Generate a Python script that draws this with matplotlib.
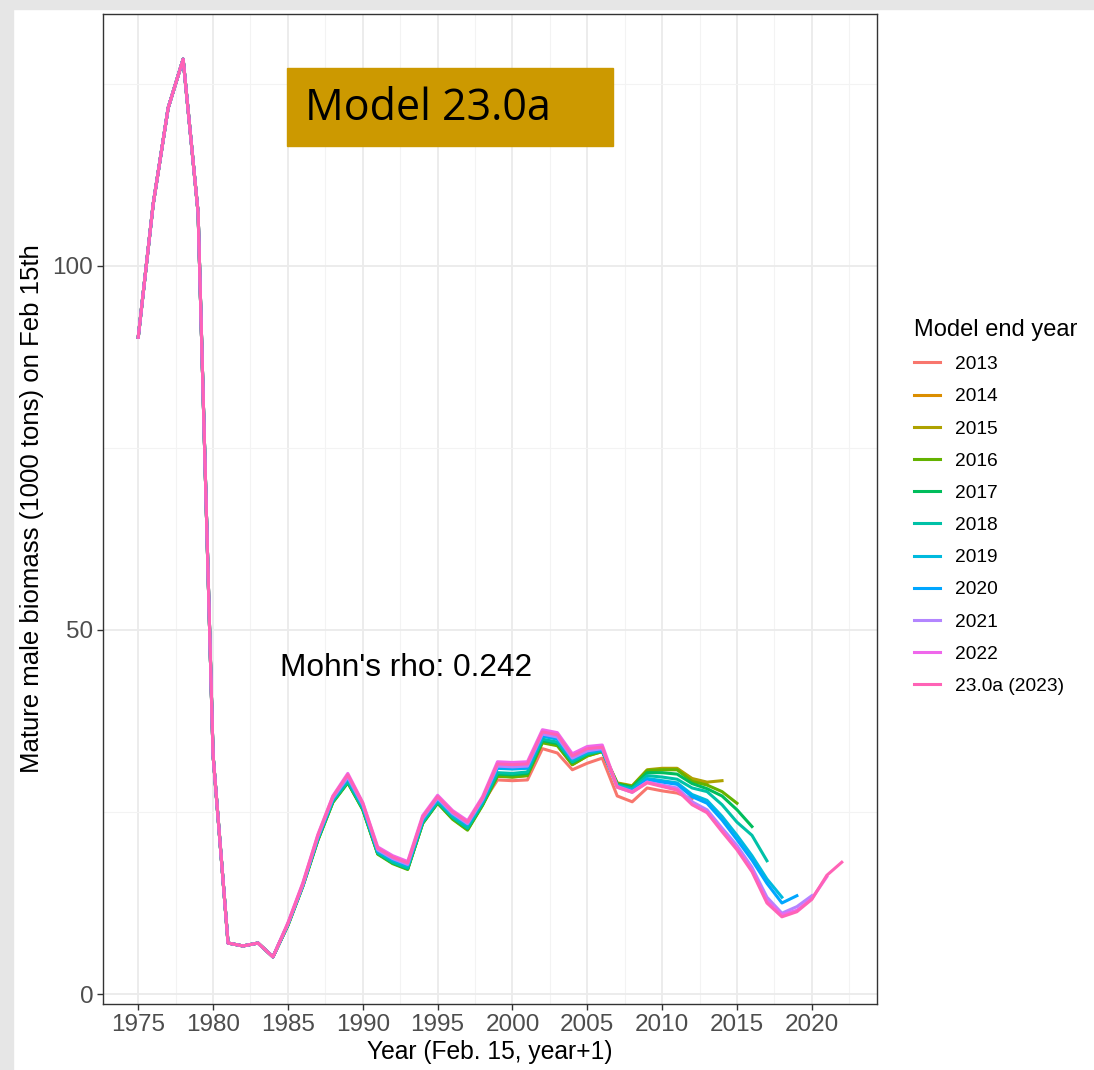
import matplotlib
matplotlib.use("Agg")
import matplotlib.pyplot as plt
from matplotlib.patches import Rectangle
from matplotlib.ticker import MultipleLocator

plt.rcParams["font.family"] = ["Liberation Sans", "DejaVu Sans"]

# --- data -------------------------------------------------------------
start_year = 1975
# 1975-1984: all retrospective runs sit on top of each other
early = [90.2, 108.5, 121.7, 128.4, 107.3, 32.8, 7.0, 6.6, 7.0, 5.1]

# 1985 onwards, one list per model end year
p13 = [9.6, 15.0, 21.5, 26.8, 29.6, 25.8, 19.6, 18.4, 17.6, 23.9, 26.6, 24.4, 22.9, 26.2,
       29.4, 29.3, 29.4, 33.7, 33.1, 30.8, 31.7, 32.4, 27.2, 26.4, 28.3, 27.9, 27.6, 26.8]
p14 = [9.5, 14.9, 21.2, 26.4, 29.1, 25.4, 19.3, 18.0, 17.2, 23.5, 26.3, 24.1, 22.6, 26.0,
       30.0, 29.8, 30.0, 34.6, 34.2, 31.5, 32.7, 33.3, 28.9, 28.5, 30.6, 30.8, 30.9, 29.5, 29.0]
p15 = [9.5, 14.9, 21.2, 26.4, 29.1, 25.4, 19.3, 18.0, 17.2, 23.5, 26.3, 24.1, 22.6, 26.0,
       30.0, 29.9, 30.1, 34.7, 34.3, 31.6, 32.8, 33.4, 29.0, 28.6, 30.8, 31.0, 31.0, 29.6, 29.1,
       29.3]
p16 = [9.4, 14.8, 21.1, 26.3, 29.0, 25.3, 19.2, 17.9, 17.1, 23.4, 26.2, 24.0, 22.5, 25.9,
       29.9, 29.8, 30.0, 34.5, 34.1, 31.5, 32.7, 33.3, 28.9, 28.5, 30.7, 30.8, 30.8, 29.2, 28.7,
       27.8, 26.2]
p17 = [9.5, 14.9, 21.2, 26.4, 29.1, 25.4, 19.3, 18.0, 17.2, 23.5, 26.3, 24.2, 22.7, 26.1,
       30.2, 30.1, 30.3, 34.8, 34.4, 31.8, 32.9, 33.4, 28.8, 28.4, 30.4, 30.4, 30.2, 28.9, 28.2,
       27.2, 25.3, 23.0]
p18 = [9.5, 14.9, 21.3, 26.5, 29.2, 25.5, 19.4, 18.1, 17.3, 23.6, 26.4, 24.3, 22.8, 26.2,
       30.4, 30.3, 30.5, 35.0, 34.6, 31.9, 33.0, 33.4, 28.7, 28.2, 30.0, 29.8, 29.5, 28.3, 27.8,
       26.0, 23.6, 21.8, 18.3]
p19 = [9.6, 15.0, 21.5, 26.8, 29.6, 25.8, 19.6, 18.4, 17.6, 23.9, 26.7, 24.6, 23.2, 26.5,
       31.0, 30.9, 31.0, 35.4, 35.0, 32.2, 33.2, 33.5, 28.6, 28.0, 29.6, 29.3, 29.0, 27.4, 26.6,
       24.4, 21.8, 19.0, 15.8, 13.3]
p20 = [9.6, 15.0, 21.5, 26.8, 29.7, 25.9, 19.7, 18.5, 17.7, 24.0, 26.8, 24.7, 23.3, 26.6,
       31.1, 31.0, 31.1, 35.5, 35.1, 32.3, 33.3, 33.6, 28.5, 27.9, 29.4, 29.1, 28.8, 27.1, 26.2,
       23.9, 21.2, 18.4, 15.2, 12.5, 13.5]
p21 = [9.6, 15.0, 21.6, 26.9, 29.8, 26.0, 19.8, 18.6, 17.8, 24.1, 26.9, 24.8, 23.4, 26.7,
       31.3, 31.2, 31.3, 35.7, 35.3, 32.4, 33.4, 33.7, 28.4, 27.7, 29.1, 28.7, 28.3, 26.4, 25.3,
       22.8, 20.4, 17.4, 13.3, 11.1, 12.0, 13.5]
p22 = [9.8, 15.3, 21.9, 27.2, 30.3, 26.3, 20.2, 19.0, 18.2, 24.5, 27.3, 25.2, 23.8, 27.1,
       31.9, 31.8, 31.9, 36.3, 35.9, 33.0, 34.0, 34.2, 28.5, 27.8, 29.1, 28.6, 28.1, 26.1, 25.0,
       22.5, 20.0, 17.0, 12.8, 10.9, 11.5, 13.1, 16.1]
p23 = [9.7, 15.2, 21.8, 27.1, 30.1, 26.2, 20.0, 18.8, 18.0, 24.3, 27.1, 25.0, 23.6, 26.9,
       31.6, 31.5, 31.6, 36.0, 35.6, 32.7, 33.7, 33.9, 28.4, 27.7, 29.0, 28.5, 28.0, 26.0, 24.9,
       22.3, 19.8, 16.8, 12.5, 10.6, 11.3, 13.0, 16.3, 18.1]

series = [p13, p14, p15, p16, p17, p18, p19, p20, p21, p22, p23]
labels = ["2013", "2014", "2015", "2016", "2017", "2018", "2019", "2020", "2021", "2022",
          "23.0a (2023)"]
colors = ["#F8766D", "#DB8E00", "#AEA200", "#64B200", "#00BD5C", "#00C1A7", "#00BADE",
          "#00A6FF", "#B385FF", "#EF67EB", "#FF63B6"]
rho_text = "Mohn's rho: 0.242"

# --- figure -----------------------------------------------------------
fig = plt.figure(figsize=(10.94, 10.70), dpi=100)
fig.patch.set_facecolor("white")
# slide texture showing at the edges
fig.add_artist(Rectangle((0, 0), 0.012, 1, transform=fig.transFigure,
                         color="#E6E6E6", zorder=0))
fig.add_artist(Rectangle((0, 0.992), 1, 0.008, transform=fig.transFigure,
                         color="#E6E6E6", zorder=0))

ax = fig.add_axes([0.0942, 0.0617, 0.7074, 0.9252])

for vals, lab, col in zip(series, labels, colors):
    y = early + vals
    x = list(range(start_year, start_year + len(y)))
    ax.plot(x, y, color=col, lw=2.2, label=lab, solid_joinstyle="round")

ax.set_xlim(1972.65, 2024.35)
ax.set_ylim(-1.37, 134.6)
ax.xaxis.set_major_locator(MultipleLocator(5))
ax.xaxis.set_minor_locator(MultipleLocator(2.5))
ax.yaxis.set_major_locator(MultipleLocator(50))
ax.yaxis.set_minor_locator(MultipleLocator(25))
ax.grid(which="major", color="#EBEBEB", lw=1.3)
ax.grid(which="minor", color="#F3F3F3", lw=0.8)
ax.set_axisbelow(True)
for s in ax.spines.values():
    s.set_color("#333333")
    s.set_linewidth(1.0)
ax.tick_params(which="major", length=4, width=1, color="#333333", pad=3,
               labelsize=17.5, labelcolor="#4D4D4D")
ax.tick_params(which="minor", length=0)

ax.set_xlabel("Year (Feb. 15, year+1)", fontsize=17.7, color="black", labelpad=3)
ax.set_ylabel("Mature male biomass (1000 tons) on Feb 15th", fontsize=18.5,
              color="black")
ax.yaxis.set_label_coords(-0.076, 0.5)

ax.text(1992.9, 44.8, rho_text, fontsize=22.8, color="black",
        ha="center", va="center")

leg = ax.legend(title="Model end year", loc="upper left",
                bbox_to_anchor=(0.8196, 0.718), bbox_transform=fig.transFigure,
                frameon=False, fontsize=13.8, title_fontsize=17,
                handlelength=1.35, handletextpad=0.8, labelspacing=0.77)
leg._legend_box.align = "left"

# "Model 23.0a" banner pasted on the slide
fig.add_artist(Rectangle((287 / 1094, 1 - 146 / 1070), 326 / 1094, 78 / 1070,
                         transform=fig.transFigure, color="#CC9900", zorder=5))
fig.text(305 / 1094, 1 - 109 / 1070, "Model 23.0a", fontsize=31,
         family=["Open Sans", "DejaVu Sans"], color="black",
         ha="left", va="center", zorder=6)

fig.savefig("out.png", dpi=100)
